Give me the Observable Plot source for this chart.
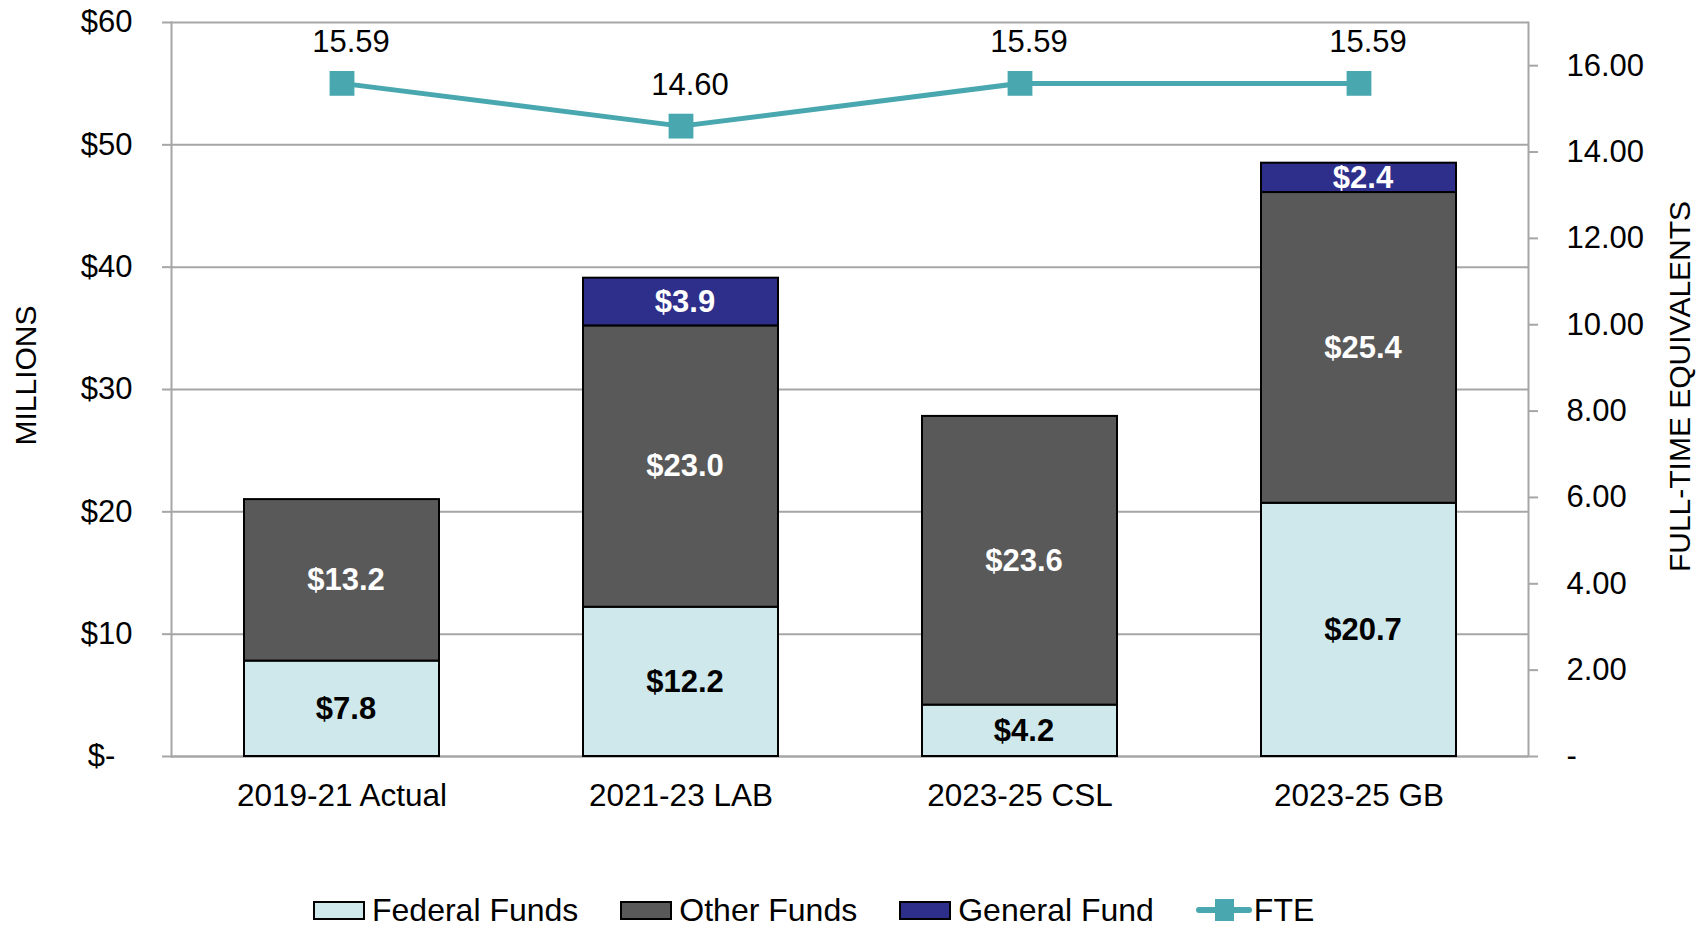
<!DOCTYPE html>
<html>
<head>
<meta charset="utf-8">
<script src="https://cdn.jsdelivr.net/npm/d3@7"></script>
<script src="https://cdn.jsdelivr.net/npm/@observablehq/plot@0.6"></script>
<style>
  html, body { margin: 0; padding: 0; background: #fff; }
  body { width: 1707px; height: 930px; overflow: hidden; font-family: "Liberation Sans", Arial, sans-serif; }
  #legend { position: relative; height: 50px; margin-top: 5px; display: flex; align-items: center; padding-left: 313px; gap: 42px; font-size: 32px; color: #000; }
  .item { display: flex; align-items: center; gap: 7px; }
  .sw { width: 48px; height: 15px; border: 2px solid #000; }
  .fte { position: relative; width: 56px; height: 22px; }
  .fte .ln { position: absolute; left: 0; right: 0; top: 8px; height: 6px; background: #49A8AF; border-radius: 3px; }
  .fte .sq { position: absolute; left: 19px; top: 0; width: 19px; height: 22px; background: #49A8AF; }
</style>
</head>
<body>
<div id="chart"></div>
<div id="legend"></div>
<script>
const periods = ["2019-21 Actual", "2021-23 LAB", "2023-25 CSL", "2023-25 GB"];
const federalFunds = [7.8, 12.2, 4.2, 20.7];
const otherFunds = [13.2, 23.0, 23.6, 25.4];
const generalFund = [0, 3.9, 0, 2.4];
const fte = [15.59, 14.60, 15.59, 15.59];
const series = ["Federal Funds", "Other Funds", "General Fund"];
const seriesColors = ["#CFE8EB", "#595959", "#2E2E8B"];
const labelColors = ["#000", "#fff", "#fff"];
const moneyTicks = [0, 10, 20, 30, 40, 50, 60];
const fteTicks = [0, 2, 4, 6, 8, 10, 12, 14, 16];
const fteMax = 17, moneyMax = 60;
const k = moneyMax / fteMax;

const seriesValues = [federalFunds, otherFunds, generalFund];
const rows = [];
periods.forEach((p, i) => {
  series.forEach((s, j) => {
    const v = seriesValues[j][i];
    if (v > 0) rows.push({period: p, series: s, value: v, label: labelColors[j]});
  });
});
const fteRows = periods.map((p, i) => ({period: p, fte: fte[i]}));

const font = `"Liberation Sans", Arial, sans-serif`;
const grid = "#A6A6A6";

const chart = Plot.plot({
  width: 1707,
  height: 880,
  marginTop: 22,
  marginBottom: 124,
  marginLeft: 171,
  marginRight: 179,
  style: {fontFamily: font, fontSize: "31px", background: "#fff", color: "#000", overflow: "visible"},
  x: {domain: periods, padding: 0},
  y: {domain: [0, moneyMax]},
  color: {domain: series, range: seriesColors},
  marks: [
    Plot.gridY(moneyTicks, {stroke: grid, strokeOpacity: 1, strokeWidth: 2}),
    Plot.axisY(moneyTicks, {anchor: "left", tickSize: 9, tickPadding: 30, stroke: grid, strokeWidth: 2,
      tickFormat: d => d === 0 ? "$-\u2007" : "$" + d, fontSize: 31, label: null}),
    Plot.axisY(fteTicks.map(t => t * k), {anchor: "right", tickSize: 9, tickPadding: 29, stroke: grid, strokeWidth: 2,
      tickFormat: d => { const v = Math.round(d / k * 100) / 100; return v === 0 ? "-" : v.toFixed(2); }, fontSize: 31, label: null}),
    Plot.axisX({tickSize: 0, tickPadding: 27, fontSize: 31.5, label: null}),
    Plot.frame({anchor: "left", stroke: grid, strokeWidth: 2}),
    Plot.frame({anchor: "right", stroke: grid, strokeWidth: 2}),
    Plot.ruleY([0], {stroke: grid, strokeWidth: 2}),
    Plot.barY(rows, Plot.stackY({x: "period", y: "value", fill: "series", order: series, stroke: "#000", strokeWidth: 2, insetLeft: 72, insetRight: 72})),
    Plot.text(rows, Plot.stackY({x: "period", y: "value", order: series, text: d => "$" + d.value.toFixed(1), fill: "label", fontWeight: "bold", fontSize: 31, dx: 4})),
    Plot.line(fteRows, {x: "period", y: d => d.fte * k, stroke: "#49A8AF", strokeWidth: 5}),
    Plot.dot(fteRows, {x: "period", y: d => d.fte * k, symbol: "square", r: 14, fill: "#49A8AF", stroke: "none"}),
    Plot.text(fteRows, {x: "period", y: d => d.fte * k, text: d => d.fte.toFixed(2), dy: -41, dx: 9, fontSize: 31, fill: "#000"}),
    Plot.text(["MILLIONS"], {frameAnchor: "left", textAnchor: "middle", dx: -145, dy: -14, rotate: -90, fontSize: 30, fill: "#000"}),
    Plot.text(["FULL-TIME EQUIVALENTS"], {frameAnchor: "right", textAnchor: "middle", dx: 152, dy: -3, rotate: -90, fontSize: 30, fill: "#000"})
  ]
});
document.getElementById("chart").appendChild(chart);

const legend = document.getElementById("legend");
series.forEach((s, j) => {
  const item = document.createElement("div");
  item.className = "item";
  const sw = document.createElement("div");
  sw.className = "sw";
  sw.style.background = seriesColors[j];
  const t = document.createElement("span");
  t.textContent = s;
  item.append(sw, t);
  legend.append(item);
});
const fi = document.createElement("div");
fi.className = "item";
fi.style.gap = "2px";
fi.innerHTML = '<div class="fte"><div class="ln"></div><div class="sq"></div></div><span>FTE</span>';
legend.append(fi);
</script>
</body>
</html>
